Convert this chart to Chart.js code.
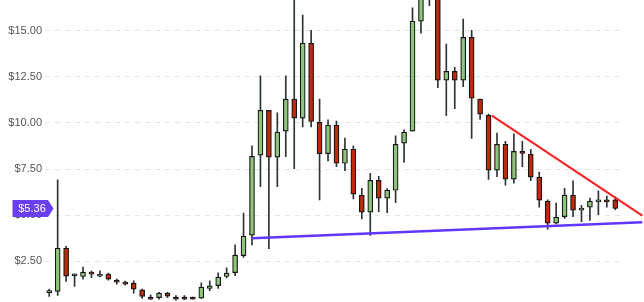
<!DOCTYPE html>
<html>
<head>
<meta charset="utf-8">
<script src="https://cdn.jsdelivr.net/npm/chart.js@4.4.1/dist/chart.umd.min.js"></script>
<style>
  html, body { margin: 0; padding: 0; background: #fff; }
  #wrap { width: 644px; height: 302px; }
</style>
</head>
<body>
<div id="wrap"><canvas id="candles" width="644" height="302"></canvas></div>
<script>
// one entry per trading session
const categories = Array.from({ length: 68 }, (_, i) => String(i + 1));

const opens = [0.81, 0.87, 3.21, 1.72, 1.68, 1.92, 1.70, 1.81, 1.48, 1.37, 1.32, 0.96, 0.56, 0.54, 0.78, 0.56, 0.56,
    0.56, 0.51, 1.03, 1.19, 1.68, 1.89, 2.81, 3.92, 8.25, 10.68, 8.14, 9.55, 11.28, 10.25, 14.31, 10.03, 8.33,
    9.87, 7.81, 8.57, 6.08, 5.16, 6.89, 5.92, 6.35, 8.90, 9.55, 15.50, 17.20, 17.30, 12.31, 12.79, 12.31, 14.63,
    11.28, 10.41, 7.44, 8.84, 6.95, 8.46, 8.30, 7.06, 5.76, 4.57, 4.92, 6.08, 5.27, 5.43, 5.72, 5.83, 5.83];
const highs = [1.00, 6.91, 3.32, 1.82, 2.19, 1.97, 1.99, 1.86, 1.54, 1.43, 1.44, 1.00, 0.69, 0.83, 0.83, 0.65, 0.65,
    0.56, 1.34, 1.44, 1.88, 2.15, 3.39, 5.12, 8.75, 12.54, 10.68, 10.54, 12.54, 17.20, 15.84, 15.01, 11.29, 10.16,
    10.09, 9.18, 8.75, 6.46, 7.27, 7.11, 6.44, 9.29, 9.62, 16.22, 17.50, 17.40, 17.40, 14.27, 13.01, 15.62, 15.01,
    11.28, 10.47, 9.44, 9.00, 9.40, 9.00, 8.57, 7.33, 5.83, 5.65, 6.46, 6.86, 5.54, 5.92, 6.32, 6.03, 5.99];
const lows = [0.60, 0.65, 1.41, 1.14, 1.54, 1.62, 1.66, 1.48, 1.27, 1.21, 0.78, 0.50, 0.42, 0.45, 0.53, 0.40, 0.42,
    0.45, 0.49, 0.92, 1.03, 1.61, 1.72, 2.71, 3.39, 6.55, 3.19, 6.55, 8.17, 7.52, 9.78, 9.78, 5.83, 7.94,
    7.63, 7.41, 5.88, 4.80, 3.90, 5.19, 5.14, 5.68, 7.85, 9.55, 14.85, 16.34, 11.90, 10.39, 10.77, 11.96, 9.15,
    10.19, 6.93, 7.09, 6.62, 6.73, 7.63, 6.87, 5.43, 4.24, 4.53, 4.82, 4.92, 4.65, 4.71, 5.03, 5.43, 5.30];
const closes = [0.81, 3.21, 1.70, 1.72, 1.92, 1.81, 1.81, 1.54, 1.37, 1.27, 1.00, 0.60, 0.45, 0.78, 0.62, 0.45, 0.45,
    0.45, 1.10, 1.17, 1.65, 1.86, 2.84, 3.86, 8.19, 10.68, 8.14, 9.49, 11.28, 10.25, 14.31, 10.07, 8.33, 9.87,
    7.81, 8.57, 6.14, 5.16, 6.89, 5.92, 6.35, 8.84, 9.49, 15.50, 17.00, 16.90, 12.31, 12.79, 12.31, 14.63, 11.33,
    10.47, 7.44, 8.84, 6.95, 8.46, 8.35, 7.06, 5.81, 4.57, 4.89, 6.08, 5.27, 5.38, 5.76, 5.83, 5.72, 5.36];

const yTicks = [2.5, 5, 7.5, 10, 12.5, 15];

// trend lines, x in session index
const supportLine = [{ x: 24, y: 3.75 }, { x: 70.2, y: 4.62 }];
const resistanceLine = [{ x: 52.4, y: 10.39 }, { x: 70.2, y: 4.98 }];

const lastPrice = closes[closes.length - 1];

const UP = '#8fc47c', DOWN = '#bd2b0b';

const wickData = lows.map((l, i) => [l, highs[i]]);
const bodyData = opens.map((o, i) => [o, closes[i]]);
const bodyColors = opens.map((o, i) => closes[i] >= o ? UP : DOWN);

const priceTag = {
    id: 'priceTag',
    afterDraw(chart) {
        const ctx = chart.ctx;
        const y = chart.scales.y.getPixelForValue(lastPrice);
        const left = 12.5, right = 48, tip = 53.5, h = 17;
        ctx.save();
        ctx.fillStyle = '#6a3ff3';
        ctx.beginPath();
        ctx.moveTo(left, y - h / 2);
        ctx.lineTo(right, y - h / 2);
        ctx.lineTo(tip, y);
        ctx.lineTo(right, y + h / 2);
        ctx.lineTo(left, y + h / 2);
        ctx.closePath();
        ctx.fill();
        ctx.fillStyle = '#fff';
        ctx.font = '11px "Liberation Sans", Arial, sans-serif';
        ctx.textAlign = 'center';
        ctx.textBaseline = 'middle';
        ctx.fillText('$' + lastPrice.toFixed(2), 32, y + 0.5);
        ctx.restore();
    }
};

new Chart(document.getElementById('candles'), {
    type: 'bar',
    data: {
        labels: categories,
        datasets: [
            {
                label: 'wick',
                data: wickData,
                backgroundColor: '#2c3437',
                barThickness: 1,
                grouped: false,
                order: 3
            },
            {
                label: 'body',
                data: bodyData,
                backgroundColor: bodyColors,
                borderColor: '#151515',
                borderWidth: 1.2,
                borderSkipped: false,
                barThickness: 5,
                minBarLength: 2,
                grouped: false,
                order: 2
            },
            {
                type: 'line',
                label: 'support',
                data: supportLine,
                xAxisID: 'x2',
                borderColor: '#6336ff',
                borderWidth: 2.5,
                pointRadius: 0,
                clip: false,
                order: 1
            },
            {
                type: 'line',
                label: 'resistance',
                data: resistanceLine,
                xAxisID: 'x2',
                borderColor: '#ff1f1f',
                borderWidth: 2,
                pointRadius: 0,
                clip: false,
                order: 0
            }
        ]
    },
    options: {
        responsive: false,
        animation: false,
        layout: { padding: { left: 0, right: 24.5, top: 0, bottom: 0 } },
        plugins: { legend: { display: false }, tooltip: { enabled: false } },
        scales: {
            x: { display: false, offset: true },
            x2: { type: 'linear', display: false, offset: false, grid: { offset: false }, min: -0.5, max: 67.5 },
            y: {
                min: 0.3,
                max: 16.65,
                border: { display: false, dash: [5, 5] },
                grid: { color: '#e3e3ec', drawTicks: false },
                ticks: {
                    padding: 3,
                    color: '#555',
                    font: { family: '"Liberation Sans", Arial, sans-serif', size: 11 },
                    callback: v => '$' + v.toFixed(2)
                },
                afterBuildTicks: s => { s.ticks = yTicks.map(v => ({ value: v })); },
                afterFit: s => { s.width = 45; s.paddingTop = 0; s.paddingBottom = 0; }
            }
        }
    },
    plugins: [priceTag]
});
</script>
</body>
</html>
